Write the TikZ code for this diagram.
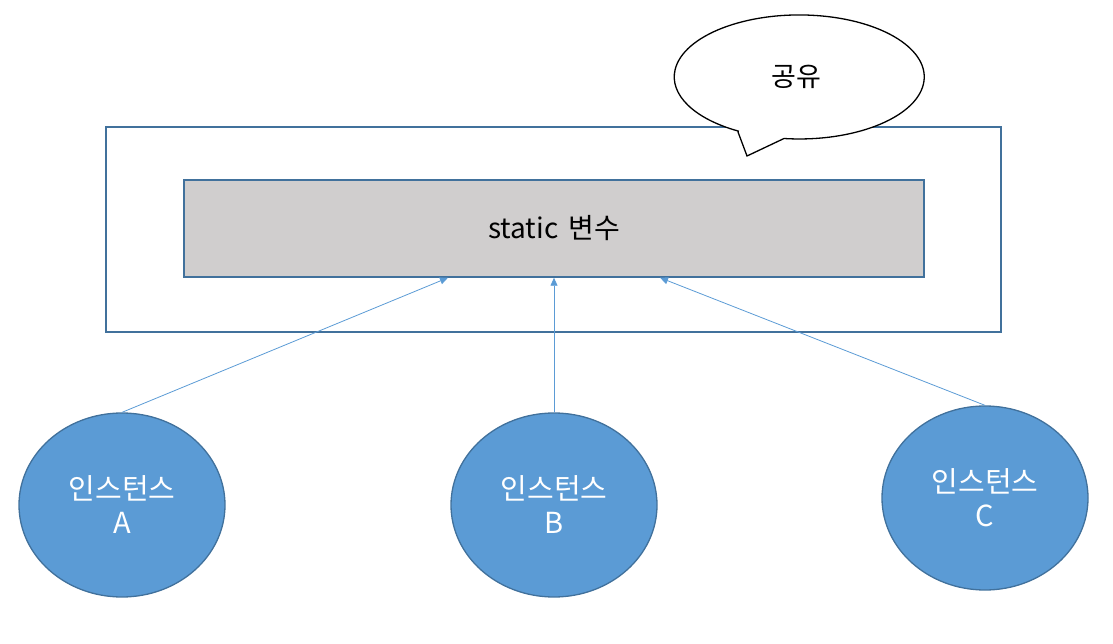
\documentclass[tikz,border=0pt]{standalone}
\usepackage{fontspec}
\setmainfont{Noto Sans CJK KR}
\usetikzlibrary{shapes.geometric, arrows.meta, positioning, calc}
\definecolor{boxline}{HTML}{41719C}
\definecolor{boxfill}{HTML}{D0CECE}
\definecolor{instfill}{HTML}{5B9BD5}

\begin{document}
\begin{tikzpicture}[x=1pt, y=1pt,
  instance/.style={ellipse, draw=boxline, line width=1.3pt, fill=instfill,
    text=white, minimum width=206pt, minimum height=184pt, inner sep=0pt,
    align=center, font=\fontsize{29}{34}\selectfont},
  link/.style={draw=instfill, line width=0.8pt, -{Triangle[length=8pt,width=7pt]}}]
\useasboundingbox (0,0) rectangle (1113,643);
% Class area
\node[draw=boxline, line width=1.5pt, minimum width=895pt, minimum height=205pt] (class) at (553.5,413.5) {};
\node[draw=boxline, line width=1.5pt, fill=boxfill, minimum width=740pt, minimum height=97pt,
  font=\fontsize{28}{30}\selectfont] (var) at (554,414.5) {static\hspace{0.35em}변수};
% Speech bubble
\draw[line width=1.3pt, fill=white] (738,511) -- (747,487) -- (784,504.5)
  arc[start angle=263, end angle=600.8, x radius=125, y radius=62] -- cycle;
\node[font=\fontsize{27}{30}\selectfont] (share) at (796,566) {공유};
% Instances
\node[instance] (instA) at (122,138) {인스턴스\\A};
\node[instance] (instB) at (554,138) {인스턴스\\B};
\node[instance] (instC) at (985,145) {인스턴스\\C};
% Arrows
\draw[link] (instA.north) -- ($(var.south west)!0.357!(var.south east)$);
\draw[link] (instB.north) -- (var.south);
\draw[link] (instC.north) -- ($(var.south west)!0.643!(var.south east)$);
\end{tikzpicture}
\end{document}
